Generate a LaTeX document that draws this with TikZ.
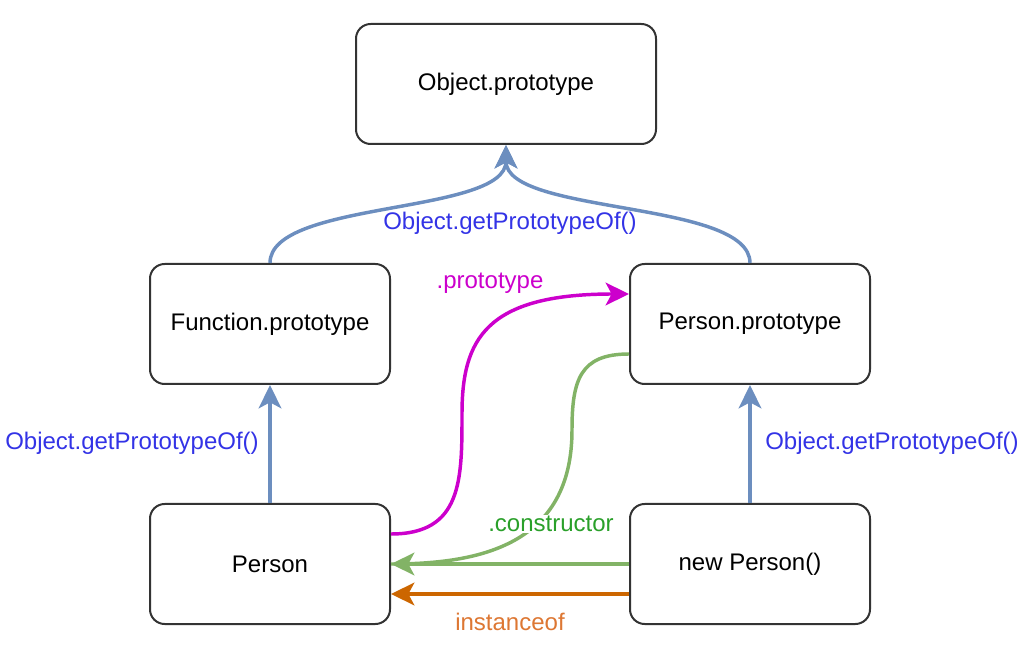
\documentclass[tikz,border=0pt]{standalone}
\usepackage{fontspec}
\setmainfont{Liberation Sans}
\usetikzlibrary{arrows.meta}
\definecolor{boxline}{HTML}{333333}
\definecolor{lblue}{HTML}{6C8EBF}
\definecolor{tblue}{HTML}{3333E6}
\definecolor{lmag}{HTML}{CC00CC}
\definecolor{lgreen}{HTML}{82B366}
\definecolor{tgreen}{HTML}{2AA02A}
\definecolor{lorange}{HTML}{CC6600}
\definecolor{torange}{HTML}{DD7733}
\tikzset{
  box/.style={draw=boxline, line width=1.5pt, rounded corners=11pt, minimum height=90pt, inner sep=0pt, font=\fontsize{18}{22}\selectfont, fill=white},
  conn/.style={line width=2.6pt, -{Stealth[length=17.5pt, width=17pt, inset=4.5pt]}},
  lbl/.style={font=\fontsize{18}{22}\selectfont, inner sep=1pt},
}
\begin{document}
\begin{tikzpicture}[x=0.75pt, y=-0.75pt]
\useasboundingbox (0,0) rectangle (1036,666);
\node[box, minimum width=225pt] (obj) at (506,84) {Object.prototype};
\node[box, minimum width=180pt] (fun) at (270,324) {Function.prototype};
\node[box, minimum width=180pt] (pp) at (750,324) {Person.prototype};
\node[box, minimum width=180pt] (per) at (270,564) {Person};
\node[box, minimum width=180pt] (np) at (750,564) {new Person()};

% top curved arrows
\draw[conn, lblue] (fun.north) .. controls (270,200) and (506,215) .. (obj.south);
\draw[conn, lblue] (pp.north) .. controls (750,200) and (506,215) .. (obj.south);
\node[lbl, text=tblue] (l1) at (510,223) {Object.getPrototypeOf()};

% vertical arrows
\draw[conn, lblue] (per.north) -- (fun.south);
\draw[conn, lblue] (np.north) -- (pp.south);
\node[lbl, text=tblue] (l2) at (132,443) {Object.getPrototypeOf()};
\node[lbl, text=tblue] (l3) at (892,443) {Object.getPrototypeOf()};

% magenta .prototype
\coordinate (pa) at ([yshift=22.5pt]per.east);
\coordinate (pb) at ([yshift=22.5pt]pp.west);
\coordinate (pm) at (462,414);
\draw[conn, lmag] (pa) .. controls (462,534) and (462,480) .. (pm) .. controls (462,340) and (485,294) .. (pb);
\node[lbl, text=lmag] (l4) at (490,283) {.prototype};

% green .constructor
\coordinate (ga) at ([yshift=-22.5pt]pp.west);
\coordinate (gm) at (572,430);
\draw[line width=2.6pt, lgreen] (ga) .. controls (580,354) and (572,380) .. (gm) .. controls (572,545) and (480,564) .. (per.east);
\draw[conn, lgreen] (np.west) -- (per.east);
\node[lbl, text=tgreen, fill=white] (l5) at (551,524) {.constructor};

% orange instanceof
\coordinate (oa) at ([yshift=-22.5pt]np.west);
\coordinate (ob) at ([yshift=-22.5pt]per.east);
\draw[conn, lorange] (oa) -- (ob);
\node[lbl, text=torange] (l6) at (510,622) {instanceof};
\end{tikzpicture}
\end{document}
